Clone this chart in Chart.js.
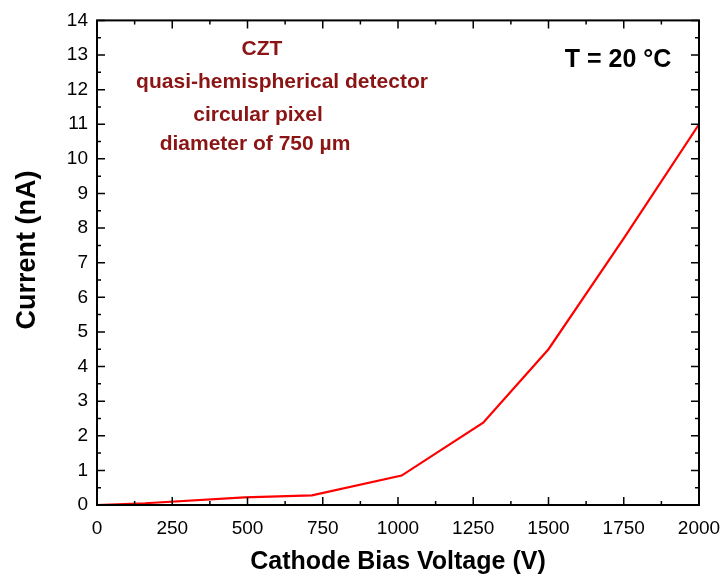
<!DOCTYPE html>
<html>
<head>
<meta charset="utf-8">
<script src="https://cdn.jsdelivr.net/npm/chart.js@4/dist/chart.umd.min.js"></script>
<style>
  body { margin: 0; background: #fff; }
  #wrap { width: 723px; height: 575px; }
</style>
</head>
<body>
<div id="wrap"><canvas id="ivChart"></canvas></div>
<script>
const voltage = [0, 160, 490, 714, 1012, 1283, 1500, 1750, 2000];
const current = [0, 0.05, 0.22, 0.28, 0.85, 2.38, 4.5, 7.7, 11.0];
const xTicks = [0, 250, 500, 750, 1000, 1250, 1500, 1750, 2000];
const yTicks = [0, 1, 2, 3, 4, 5, 6, 7, 8, 9, 10, 11, 12, 13, 14];
const notes = ["CZT", "quasi-hemispherical detector", "circular pixel", "diameter of 750 µm"];

const FONT = "'Liberation Sans', Arial, sans-serif";
Chart.defaults.font.family = FONT;
Chart.defaults.color = "#000";

// frame with inward major/minor ticks on all four sides, plus the text
const frame = {
  id: "frame",
  afterDatasetsDraw(chart) {
    const { ctx, chartArea: a, scales: { x, y } } = chart;
    ctx.save();
    ctx.strokeStyle = "#000";
    ctx.lineWidth = 2;
    ctx.strokeRect(a.left, a.top, a.right - a.left, a.bottom - a.top);
    ctx.lineWidth = 1.5;
    ctx.beginPath();
    for (let v = 0; v <= 2000; v += 125) {
      const px = x.getPixelForValue(v);
      const len = v % 250 === 0 ? 8 : 4;
      ctx.moveTo(px, a.bottom); ctx.lineTo(px, a.bottom - len);
      ctx.moveTo(px, a.top); ctx.lineTo(px, a.top + len);
    }
    for (let v = 0; v <= 14; v += 0.5) {
      const py = y.getPixelForValue(v);
      const len = v % 1 === 0 ? 8 : 4;
      ctx.moveTo(a.left, py); ctx.lineTo(a.left + len, py);
      ctx.moveTo(a.right, py); ctx.lineTo(a.right - len, py);
    }
    ctx.stroke();

    ctx.textAlign = "center";
    ctx.textBaseline = "middle";
    ctx.fillStyle = "#8b1414";
    ctx.font = "bold 21px " + FONT;
    const nx = [262, 282, 258, 255];
    const ny = [49, 82, 115, 144];
    notes.forEach((t, i) => ctx.fillText(t, nx[i], ny[i]));
    ctx.fillStyle = "#000";
    ctx.font = "bold 25px " + FONT;
    ctx.fillText("T = 20 °C", 618, 60);

    // y axis title, drawn here so it can sit a bit above centre like the original
    ctx.translate(28, 250);
    ctx.rotate(-Math.PI / 2);
    ctx.font = "bold 27px " + FONT;
    ctx.fillText("Current (nA)", 0, 0);
    ctx.restore();
  },
};

new Chart(document.getElementById("ivChart"), {
  type: "line",
  data: {
    datasets: [
      {
        data: voltage.map((v, i) => ({ x: v, y: current[i] })),
        borderColor: "#ff0000",
        borderWidth: 2.2,
        pointRadius: 0,
        tension: 0,
        fill: false,
      },
    ],
  },
  options: {
    responsive: true,
    maintainAspectRatio: false,
    animation: false,
    layout: { padding: { top: 20, right: 24, left: 0, bottom: 0 } },
    plugins: { legend: { display: false }, tooltip: { enabled: false } },
    scales: {
      x: {
        type: "linear",
        min: 0,
        max: 2000,
        afterFit: (s) => { s.height = 70; s.paddingLeft = 0; s.paddingRight = 0; },
        afterBuildTicks: (s) => { s.ticks = xTicks.map((v) => ({ value: v })); },
        grid: { display: false, drawTicks: false },
        border: { display: false },
        ticks: { padding: 12, font: { size: 19 }, maxRotation: 0, callback: (v) => String(v) },
        title: {
          display: true,
          text: "Cathode Bias Voltage (V)",
          font: { size: 25, weight: "bold", lineHeight: 1 },
          padding: { top: 0, bottom: 0 },
        },
      },
      y: {
        min: 0,
        max: 14,
        afterFit: (s) => { s.width = 97; },
        afterBuildTicks: (s) => { s.ticks = yTicks.map((v) => ({ value: v })); },
        grid: { display: false, drawTicks: false },
        border: { display: false },
        ticks: { padding: 9, font: { size: 19 }, callback: (v) => String(v) },
        title: { display: false },
      },
    },
  },
  plugins: [frame],
});
</script>
</body>
</html>
